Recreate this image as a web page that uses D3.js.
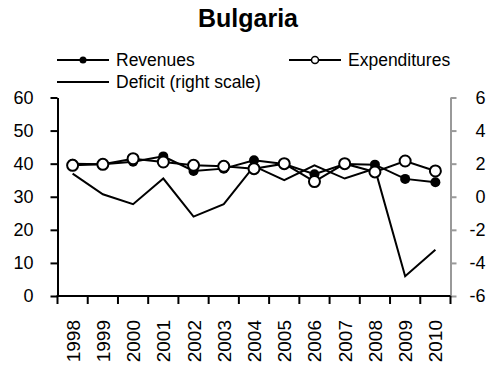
<!DOCTYPE html>
<html>
<head>
<meta charset="utf-8">
<script src="https://cdn.jsdelivr.net/npm/d3@7"></script>
<style>
  html, body { margin: 0; padding: 0; background: #fff; }
  svg { display: block; font-family: "Liberation Sans", Arial, sans-serif; }
</style>
</head>
<body>
<svg id="chart" width="494" height="376"></svg>
<script>
// Bulgaria: general government revenues and expenditures (% of GDP, left scale)
// and the resulting balance (right scale)
const years = ["1998","1999","2000","2001","2002","2003","2004","2005","2006","2007","2008","2009","2010"];
const revenues     = [40.0, 39.8, 40.6, 42.2, 37.8, 38.5, 41.0, 39.9, 36.8, 39.9, 39.7, 35.4, 34.4];
const expenditures = [39.5, 39.8, 41.5, 40.5, 39.5, 39.2, 38.5, 40.0, 34.6, 40.0, 37.5, 40.8, 37.8];
const deficit      = [1.4, 0.15, -0.45, 1.1, -1.2, -0.45, 1.85, 1.0, 1.9, 1.1, 1.7, -4.8, -3.2];
const leftTicks  = [0, 10, 20, 30, 40, 50, 60];
const rightTicks = [-6, -4, -2, 0, 2, 4, 6];

const svg = d3.select("#chart");
const plot = { left: 57.5, right: 450.5, top: 97.5, bottom: 296 };

const x = d3.scaleBand().domain(years).range([plot.left, plot.right]);
const yL = d3.scaleLinear().domain([0, 60]).range([plot.bottom, plot.top]);
const yR = d3.scaleLinear().domain([-6, 6]).range([plot.bottom, plot.top]);
const cx = d => x(d) + x.bandwidth() / 2;

// Title
svg.append("text")
  .attr("x", 248).attr("y", 27)
  .attr("text-anchor", "middle")
  .style("font-weight", "bold").style("font-size", "25px")
  .text("Bulgaria");

// Left axis
const gL = svg.append("g").attr("transform", `translate(${plot.left},0)`)
  .call(d3.axisLeft(yL).tickValues(leftTicks).tickFormat(d => String(d))
    .tickSize(7).tickPadding(17).tickSizeOuter(0));
gL.select(".domain").attr("stroke", "#000").attr("stroke-width", 2);
gL.selectAll(".tick line").attr("stroke", "#000").attr("stroke-width", 2);
gL.selectAll(".tick text").style("font-size", "18px").attr("fill", "#000");

// Right axis (grey), plain hyphen for negative labels
const gR = svg.append("g").attr("transform", `translate(${plot.right},0)`)
  .call(d3.axisRight(yR).tickValues(rightTicks).tickFormat(d => String(d))
    .tickSize(6).tickSizeOuter(0));
gR.select(".domain").attr("stroke", "#999").attr("stroke-width", 2);
gR.selectAll(".tick line").attr("stroke", "#999").attr("stroke-width", 2);
gR.selectAll(".tick text")
  .style("font-size", "18px").attr("fill", "#000")
  .attr("text-anchor", "end").attr("x", 35);

// Bottom axis with ticks at category boundaries
const bounds = years.map(d => x(d)).concat([plot.right]);
const gB = svg.append("g");
gB.append("line")
  .attr("x1", plot.left - 1).attr("x2", plot.right)
  .attr("y1", plot.bottom).attr("y2", plot.bottom)
  .attr("stroke", "#000").attr("stroke-width", 2);
gB.selectAll("line.tk").data(bounds).join("line").attr("class", "tk")
  .attr("x1", d => d).attr("x2", d => d)
  .attr("y1", plot.bottom).attr("y2", plot.bottom + 8)
  .attr("stroke", "#000").attr("stroke-width", 2);
gB.selectAll("text").data(years).join("text")
  .attr("transform", d => `translate(${cx(d) + 7},${plot.bottom + 24}) rotate(-90)`)
  .attr("text-anchor", "end")
  .style("font-size", "19px")
  .text(d => d);

// Deficit line (right scale)
svg.append("path")
  .datum(deficit)
  .attr("fill", "none").attr("stroke", "#000").attr("stroke-width", 2)
  .attr("d", d3.line().x((d, i) => cx(years[i])).y(d => yR(d)));

// Revenues
svg.append("path")
  .datum(revenues)
  .attr("fill", "none").attr("stroke", "#000").attr("stroke-width", 2)
  .attr("d", d3.line().x((d, i) => cx(years[i])).y(d => yL(d)));
svg.selectAll("circle.rev").data(revenues).join("circle").attr("class", "rev")
  .attr("cx", (d, i) => cx(years[i])).attr("cy", d => yL(d))
  .attr("r", 5).attr("fill", "#000");

// Expenditures
svg.append("path")
  .datum(expenditures)
  .attr("fill", "none").attr("stroke", "#000").attr("stroke-width", 2)
  .attr("d", d3.line().x((d, i) => cx(years[i])).y(d => yL(d)));
svg.selectAll("circle.exp").data(expenditures).join("circle").attr("class", "exp")
  .attr("cx", (d, i) => cx(years[i])).attr("cy", d => yL(d))
  .attr("r", 5.5).attr("fill", "#fff").attr("stroke", "#000").attr("stroke-width", 2);

// Legend
const legend = [
  { label: "Revenues", x: 57, y: 60, marker: "filled" },
  { label: "Expenditures", x: 289, y: 60, marker: "open" },
  { label: "Deficit (right scale)", x: 57, y: 82, marker: "none" }
];
const lg = svg.append("g");
legend.forEach(item => {
  const g = lg.append("g").attr("transform", `translate(${item.x},${item.y})`);
  g.append("line").attr("x1", 0).attr("x2", 52).attr("y1", 0).attr("y2", 0)
    .attr("stroke", "#000").attr("stroke-width", 2);
  if (item.marker === "filled") {
    g.append("circle").attr("cx", 26).attr("cy", 0).attr("r", 3.5).attr("fill", "#000");
  } else if (item.marker === "open") {
    g.append("circle").attr("cx", 26).attr("cy", 0).attr("r", 3.5)
      .attr("fill", "#fff").attr("stroke", "#000").attr("stroke-width", 1.5);
  }
  g.append("text").attr("x", 59).attr("y", 6)
    .style("font-size", "17.5px").text(item.label);
});
</script>
</body>
</html>
